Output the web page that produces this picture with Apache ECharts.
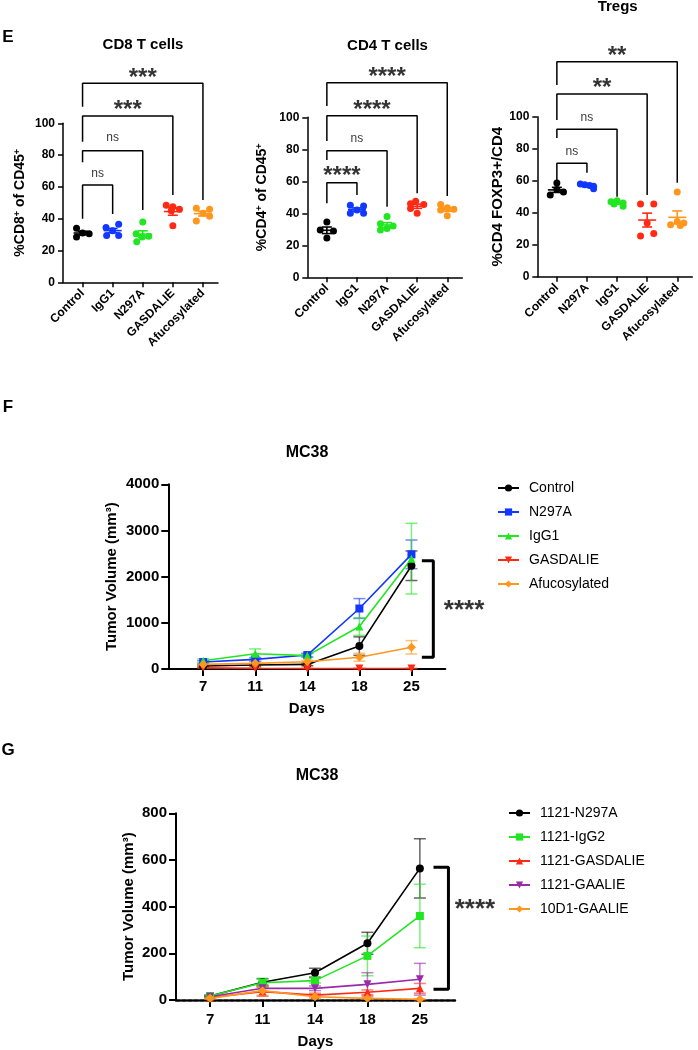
<!DOCTYPE html>
<html><head><meta charset="utf-8">
<script src="https://cdn.jsdelivr.net/npm/echarts@6/dist/echarts.min.js"></script>
<style>html,body{margin:0;padding:0;background:#fff}#c{width:698px;height:1050px}</style>
</head><body><div id="c"></div>
<script>
const FONT = '"Liberation Sans", Arial, sans-serif';

// ---------- Panel E data ----------
const CD8_GROUPS = ['Control', 'IgG1', 'N297A', 'GASDALIE', 'Afucosylated'];
const CD8_VALUES = [
  [34, 31, 30.5, 28.5],
  [36.5, 34.5, 32.5, 29.5, 29.5],
  [38, 30.5, 29, 28.5, 25.5],
  [48.5, 47.5, 46, 45, 35.5],
  [46.5, 46, 43.5, 41.5, 38.5]
];
const CD8_JITTER = [
  [-0.2, 0, 0.22, -0.2],
  [0.2, -0.22, 0, -0.2, 0.2],
  [0, -0.22, 0.2, -0.02, -0.2],
  [-0.22, 0, 0.22, -0.05, 0],
  [-0.22, 0.22, 0, 0.22, -0.22]
];
// [leftGroup, rightGroup, leftLegBottom, top, rightLegBottom, text, textY]
const CD8_BRACKETS = [
  [0, 4, 110.4, 125.2, 51.8, '***', 131.4],
  [0, 3, 88.4, 104.6, 54.9, '***', 111.5],
  [0, 2, 75.5, 82.8, 45.5, 'ns', 90.8],
  [0, 1, 39.9, 61.2, 43, 'ns', 68.6]
];

const CD4_GROUPS = ['Control', 'IgG1', 'N297A', 'GASDALIE', 'Afucosylated'];
const CD4_VALUES = [
  [34.5, 29.5, 29, 24.5],
  [45, 44.5, 42, 40, 40],
  [38, 33.5, 32, 30.5, 29.5],
  [47.5, 46, 45.5, 43, 40],
  [45.5, 43.5, 42.5, 42, 38.5]
];
const CD4_JITTER = [
  [0, -0.22, 0.22, 0],
  [-0.22, 0.22, 0, -0.22, 0.22],
  [0, -0.22, 0.2, 0, -0.22],
  [-0.05, -0.22, 0.22, -0.22, 0],
  [-0.22, 0, 0.22, -0.22, 0]
];
const CD4_BRACKETS = [
  [0, 4, 107.1, 121.6, 50.8, '****', 127.9],
  [0, 3, 85.2, 101, 52.5, '****', 107.7],
  [0, 2, 73.3, 79.1, 44.1, 'ns', 86.9],
  [0, 1, 46.3, 59.1, 51.4, '****', 66]
];

const TREG_GROUPS = ['Control', 'N297A', 'IgG1', 'GASDALIE', 'Afucosylated'];
const TREG_VALUES = [
  [58.5, 54.5, 53, 51],
  [58, 57.5, 57, 56.5, 55],
  [47.5, 46.9, 46, 45.4, 44],
  [45.5, 45.5, 33.5, 27, 25.5],
  [53, 34.5, 33.5, 32.5, 32]
];
const TREG_JITTER = [
  [0, 0, 0.22, -0.22],
  [-0.22, -0.07, 0.09, 0.22, 0.22],
  [0, -0.2, 0.2, -0.1, 0.2],
  [-0.22, 0.22, 0, 0.22, -0.22],
  [0, 0, 0.22, -0.22, 0.1]
];
const TREG_BRACKETS = [
  [0, 4, 119.8, 134.4, 58.75, '**', 140.6],
  [0, 3, 97.9, 114.2, 51.1, '**', 120.9],
  [0, 2, 86.7, 92.1, 50, 'ns', 99.6],
  [0, 1, 60.4, 70.9, 65, 'ns', 78.1]
];

// ---------- Panel F data ----------
const F_DAYS = ['7', '11', '14', '18', '25'];
const F_NAMES = ['Control', 'N297A', 'IgG1', 'GASDALIE', 'Afucosylated'];
const F_CONTROL = [65, 86, 100, 496, 2236];
const F_N297A = [150, 209, 302, 1310, 2483];
const F_IGG1 = [180, 330, 290, 920, 2390];
const F_GASDALIE = [25, 15, 10, 10, 10];
const F_AFUCO = [100, 122, 158, 255, 470];
const F_CONTROL_SEM = [20, 25, 30, 200, 320];
const F_N297A_SEM = [30, 40, 40, 215, 310];
const F_IGG1_SEM = [40, 105, 40, 190, 765];
const F_GASDALIE_SEM = [5, 5, 5, 5, 5];
const F_AFUCO_SEM = [20, 30, 30, 85, 145];
const SIG_LABEL = '****';

// ---------- Panel G data ----------
const G_DAYS = ['7', '11', '14', '18', '25'];
const G_NAMES = ['1121-N297A', '1121-IgG2', '1121-GASDALIE', '1121-GAALIE', '10D1-GAALIE'];
const G_N297A = [17, 76, 117, 243, 564];
const G_IGG2 = [17, 74, 83, 189, 360];
const G_GASDALIE = [11, 36, 21, 33, 50];
const G_GAALIE = [14, 50, 50, 67, 89];
const G_10D1 = [7, 40, 14, 7, 3];
const G_N297A_SEM = [4, 15, 19, 47, 127];
const G_IGG2_SEM = [4, 19, 10, 85, 136];
const G_GASDALIE_SEM = [3, 20, 8, 10, 21];
const G_GAALIE_SEM = [3, 15, 10, 50, 68];
const G_10D1_SEM = [3, 20, 8, 3, 2];

// ---------- styling ----------
const E_COLORS = ['#000000', '#1238ff', '#22e622', '#ff2a14', '#ff961e'];
const F_COLORS = ['#000000', '#1238ff', '#22e622', '#ff2a14', '#ff961e'];
const G_COLORS = ['#000000', '#22e622', '#ff2a14', '#9a2aa8', '#ff961e'];
const F_SYMBOLS = ['circle', 'rect', 'triangle', 'triangle', 'diamond'];
const F_ROT = [0, 0, 0, 180, 0];
const G_SYMBOLS = ['circle', 'rect', 'triangle', 'triangle', 'diamond'];
const G_ROT = [0, 0, 0, 180, 0];

function mean(a) { return a.reduce((s, v) => s + v, 0) / a.length; }
function sem(a) {
  const m = mean(a);
  const sd = Math.sqrt(a.reduce((s, v) => s + (v - m) * (v - m), 0) / (a.length - 1));
  return sd / Math.sqrt(a.length);
}

const grids = [
  { left: 63, top: 123.3, width: 155, height: 159 },
  { left: 307.3, top: 117.3, width: 155, height: 160 },
  { left: 537.3, top: 116.7, width: 155, height: 160 },
  { left: 168.3, top: 484.3, width: 277, height: 184.7 },
  { left: 176, top: 813.3, width: 279, height: 186.7 }
].map(g => Object.assign({ outerBoundsMode: 'none', containLabel: false }, g));

function eX(gi, groups) {
  return {
    gridIndex: gi, type: 'value', min: -0.65, max: 4.5,
    axisLine: { show: true, onZero: false, lineStyle: { color: '#000', width: 1.5 } },
    axisTick: { show: true, customValues: [0, 1, 2, 3, 4], length: 5, lineStyle: { color: '#000', width: 1.5 } },
    axisLabel: { customValues: [0, 1, 2, 3, 4], formatter: v => groups[Math.round(v)], rotate: 45,
      fontWeight: 'bold', fontSize: 12, color: '#000', fontFamily: FONT, margin: 9 },
    splitLine: { show: false }
  };
}
function eY(gi, name, gap, rich) {
  return {
    gridIndex: gi, type: 'value', min: 0, max: 100, interval: 20,
    axisLine: { show: true, onZero: false, lineStyle: { color: '#000', width: 1.5 } },
    axisTick: { show: true, length: 5, lineStyle: { color: '#000', width: 1.5 } },
    axisLabel: { fontWeight: 'bold', fontSize: 12, color: '#000', fontFamily: FONT, margin: 8,
      formatter: v => String(v) },
    splitLine: { show: false },
    name: name, nameLocation: 'middle', nameRotate: 90, nameGap: gap,
    nameTextStyle: rich
  };
}
const supRich = {
  rich: {
    a: { fontSize: 14, fontWeight: 'bold', fontFamily: FONT, color: '#000' },
    s: { fontSize: 9, fontWeight: 'bold', fontFamily: FONT, color: '#000', verticalAlign: 'top' }
  }
};

function tvX(gi, min, max, days, margin, gap, lineStyle) {
  return {
    gridIndex: gi, type: 'value', min: min, max: max,
    axisLine: { show: true, onZero: false, lineStyle: lineStyle },
    axisTick: { show: true, customValues: [0, 1, 2, 3, 4], length: 7, lineStyle: { color: '#000', width: 2 } },
    axisLabel: { customValues: [0, 1, 2, 3, 4], formatter: v => days[Math.round(v)],
      fontWeight: 'bold', fontSize: 15, color: '#000', fontFamily: FONT, margin: margin },
    splitLine: { show: false },
    name: 'Days', nameLocation: 'middle', nameGap: gap,
    nameTextStyle: { fontWeight: 'bold', fontSize: 15, color: '#000', fontFamily: FONT }
  };
}
function tvY(gi, max, interval, gap) {
  return {
    gridIndex: gi, type: 'value', min: 0, max: max, interval: interval,
    axisLine: { show: true, onZero: false, lineStyle: { color: '#000', width: 2 } },
    axisTick: { show: true, length: 7, lineStyle: { color: '#000', width: 2 } },
    axisLabel: { fontWeight: 'bold', fontSize: 15, color: '#000', fontFamily: FONT, margin: 9,
      formatter: v => String(v) },
    splitLine: { show: false },
    name: 'Tumor Volume (mm³)', nameLocation: 'middle', nameRotate: 90, nameGap: gap,
    nameTextStyle: { fontWeight: 'bold', fontSize: 15, color: '#000', fontFamily: FONT }
  };
}

const series = [];

function ePanel(gi, prefix, values, jitter, brackets) {
  values.forEach((vals, i) => {
    series.push({
      type: 'scatter', name: prefix + '-pts-' + i, xAxisIndex: gi, yAxisIndex: gi,
      data: vals.map((v, j) => [i + jitter[i][j], v]),
      symbol: 'circle', symbolSize: 7, itemStyle: { color: E_COLORS[i], opacity: 1 }, z: 4, silent: true
    });
  });
  series.push({
    type: 'custom', name: prefix + '-mean', xAxisIndex: gi, yAxisIndex: gi, z: 5, silent: true,
    data: values.map((vals, i) => [i, mean(vals), sem(vals), i]),
    renderItem: function (params, api) {
      const x = api.value(0), m = api.value(1), s = api.value(2), ci = api.value(3);
      const pm = api.coord([x, m]), pt = api.coord([x, m + s]), pb = api.coord([x, m - s]);
      const col = E_COLORS[ci];
      const st = { stroke: col, lineWidth: 1.6 };
      return { type: 'group', children: [
        { type: 'line', shape: { x1: pm[0] - 9, y1: pm[1], x2: pm[0] + 9, y2: pm[1] }, style: st },
        { type: 'line', shape: { x1: pt[0], y1: pt[1], x2: pb[0], y2: pb[1] }, style: st },
        { type: 'line', shape: { x1: pt[0] - 5, y1: pt[1], x2: pt[0] + 5, y2: pt[1] }, style: st },
        { type: 'line', shape: { x1: pb[0] - 5, y1: pb[1], x2: pb[0] + 5, y2: pb[1] }, style: st }
      ] };
    }
  });
  brackets.forEach((b, k) => {
    const [l, r, lb, top, rb, txt, ty] = b;
    series.push({
      type: 'line', name: prefix + '-br-' + k, xAxisIndex: gi, yAxisIndex: gi,
      data: [[l, lb], [l, top], [r, top], [r, rb]], symbol: 'none', clip: false, silent: true,
      lineStyle: { color: '#000', width: 1.5 }, z: 3
    });
    const star = txt.indexOf('*') >= 0;
    series.push({
      type: 'scatter', name: prefix + '-lab-' + k, xAxisIndex: gi, yAxisIndex: gi,
      data: [[(l + r) / 2, ty]], symbolSize: 0, clip: false, silent: true,
      label: { show: true, position: 'inside', formatter: txt, color: '#000', fontFamily: FONT,
        fontSize: star ? 24 : 12, fontWeight: star ? 'bold' : 'normal', offset: [0, star ? 5 : 0] }
    });
  });
}
ePanel(0, 'cd8', CD8_VALUES, CD8_JITTER, CD8_BRACKETS);
ePanel(1, 'cd4', CD4_VALUES, CD4_JITTER, CD4_BRACKETS);
ePanel(2, 'treg', TREG_VALUES, TREG_JITTER, TREG_BRACKETS);

function tvPanel(gi, names, vals, sems, colors, symbols, rots) {
  vals.forEach((v, i) => {
    series.push({
      type: 'custom', name: names[i] + ' err', xAxisIndex: gi, yAxisIndex: gi, z: 2, silent: true,
      data: v.map((y, d) => [d, y, sems[i][d]]),
      renderItem: function (params, api) {
        const x = api.value(0), m = api.value(1), s = api.value(2);
        const pt = api.coord([x, m + s]), pb = api.coord([x, Math.max(0, m - s)]);
        const st = { stroke: colors[i], lineWidth: 1.5, opacity: 0.6 };
        return { type: 'group', children: [
          { type: 'line', shape: { x1: pt[0], y1: pt[1], x2: pb[0], y2: pb[1] }, style: st },
          { type: 'line', shape: { x1: pt[0] - 6, y1: pt[1], x2: pt[0] + 6, y2: pt[1] }, style: st },
          { type: 'line', shape: { x1: pb[0] - 6, y1: pb[1], x2: pb[0] + 6, y2: pb[1] }, style: st }
        ] };
      }
    });
    series.push({
      type: 'line', name: names[i], xAxisIndex: gi, yAxisIndex: gi, z: 3,
      data: v.map((y, d) => [d, y]),
      symbol: symbols[i], symbolRotate: rots[i], symbolSize: symbols[i] === 'diamond' ? 9 : 8,
      itemStyle: { color: colors[i] }, lineStyle: { color: colors[i], width: 1.6 }, silent: true
    });
  });
}
tvPanel(3, F_NAMES, [F_CONTROL, F_N297A, F_IGG1, F_GASDALIE, F_AFUCO],
  [F_CONTROL_SEM, F_N297A_SEM, F_IGG1_SEM, F_GASDALIE_SEM, F_AFUCO_SEM], F_COLORS, F_SYMBOLS, F_ROT);
tvPanel(4, G_NAMES, [G_N297A, G_IGG2, G_GASDALIE, G_GAALIE, G_10D1],
  [G_N297A_SEM, G_IGG2_SEM, G_GASDALIE_SEM, G_GAALIE_SEM, G_10D1_SEM], G_COLORS, G_SYMBOLS, G_ROT);

// significance braces for F and G
function brace(gi, pts, txt, tx, ty) {
  series.push({
    type: 'line', name: 'brace' + gi, xAxisIndex: gi, yAxisIndex: gi, data: pts, symbol: 'none',
    clip: false, silent: true, lineStyle: { color: '#000', width: 3 }, z: 3
  });
  series.push({
    type: 'scatter', name: 'bracelab' + gi, xAxisIndex: gi, yAxisIndex: gi, data: [[tx, ty]],
    symbolSize: 0, clip: false, silent: true,
    label: { show: true, position: 'inside', formatter: txt, color: '#000', fontFamily: FONT,
      fontSize: 26, fontWeight: 'bold', offset: [0, 5] }
  });
}
brace(3, [[4.2, 2344], [4.42, 2344], [4.42, 253], [4.2, 253]], SIG_LABEL, 5.01, 1364);
brace(4, [[4.26, 569], [4.545, 569], [4.545, 46], [4.26, 46]], SIG_LABEL, 5.05, 407);

const legendBase = {
  orient: 'vertical', padding: 0, itemWidth: 21, itemHeight: 9, itemGap: 10, selectedMode: false,
  textStyle: { fontSize: 14, color: '#000', fontFamily: FONT, padding: [0, 0, 0, 5] }
};

const option = {
  animation: false,
  backgroundColor: '#fff',
  grid: grids,
  xAxis: [eX(0, CD8_GROUPS), eX(1, CD4_GROUPS), eX(2, TREG_GROUPS),
    tvX(3, -0.67, 4.65, F_DAYS, 10, 32, { color: '#000', width: 2 }),
    tvX(4, -0.65, 4.67, G_DAYS, 12, 34, { color: '#000', width: 2.5, type: [4, 2] })],
  yAxis: [
    eY(0, '{a|%CD8}{s|+}{a| of CD45}{s|+}', 36, supRich),
    eY(1, '{a|%CD4}{s|+}{a| of CD45}{s|+}', 38, supRich),
    eY(2, '%CD4 FOXP3+/CD4', 32, { fontSize: 15, fontWeight: 'bold', fontFamily: FONT, color: '#000' }),
    tvY(3, 4000, 1000, 49), tvY(4, 800, 200, 40)
  ],
  legend: [
    Object.assign({}, legendBase, { data: F_NAMES, left: 497, top: 481 }),
    Object.assign({}, legendBase, { data: G_NAMES, left: 508, top: 806 })
  ],
  graphic: [
    { type: 'text', x: 8, y: 37, style: { text: 'E', font: 'bold 17px ' + FONT, fill: '#000', textAlign: 'center', textVerticalAlign: 'middle' } },
    { type: 'text', x: 8, y: 407, style: { text: 'F', font: 'bold 17px ' + FONT, fill: '#000', textAlign: 'center', textVerticalAlign: 'middle' } },
    { type: 'text', x: 8, y: 750, style: { text: 'G', font: 'bold 17px ' + FONT, fill: '#000', textAlign: 'center', textVerticalAlign: 'middle' } },
    { type: 'text', x: 143, y: 45, style: { text: 'CD8 T cells', font: 'bold 15px ' + FONT, fill: '#000', textAlign: 'center', textVerticalAlign: 'middle' } },
    { type: 'text', x: 387.5, y: 46, style: { text: 'CD4 T cells', font: 'bold 15px ' + FONT, fill: '#000', textAlign: 'center', textVerticalAlign: 'middle' } },
    { type: 'text', x: 617.7, y: 7, style: { text: 'Tregs', font: 'bold 15px ' + FONT, fill: '#000', textAlign: 'center', textVerticalAlign: 'middle' } },
    { type: 'text', x: 307, y: 453, style: { text: 'MC38', font: 'bold 16px ' + FONT, fill: '#000', textAlign: 'center', textVerticalAlign: 'middle' } },
    { type: 'text', x: 317, y: 776, style: { text: 'MC38', font: 'bold 16px ' + FONT, fill: '#000', textAlign: 'center', textVerticalAlign: 'middle' } }
  ],
  series: series
};

const chart = echarts.init(document.getElementById('c'), null, { renderer: 'canvas' });
chart.setOption(option);
</script>
</body></html>
